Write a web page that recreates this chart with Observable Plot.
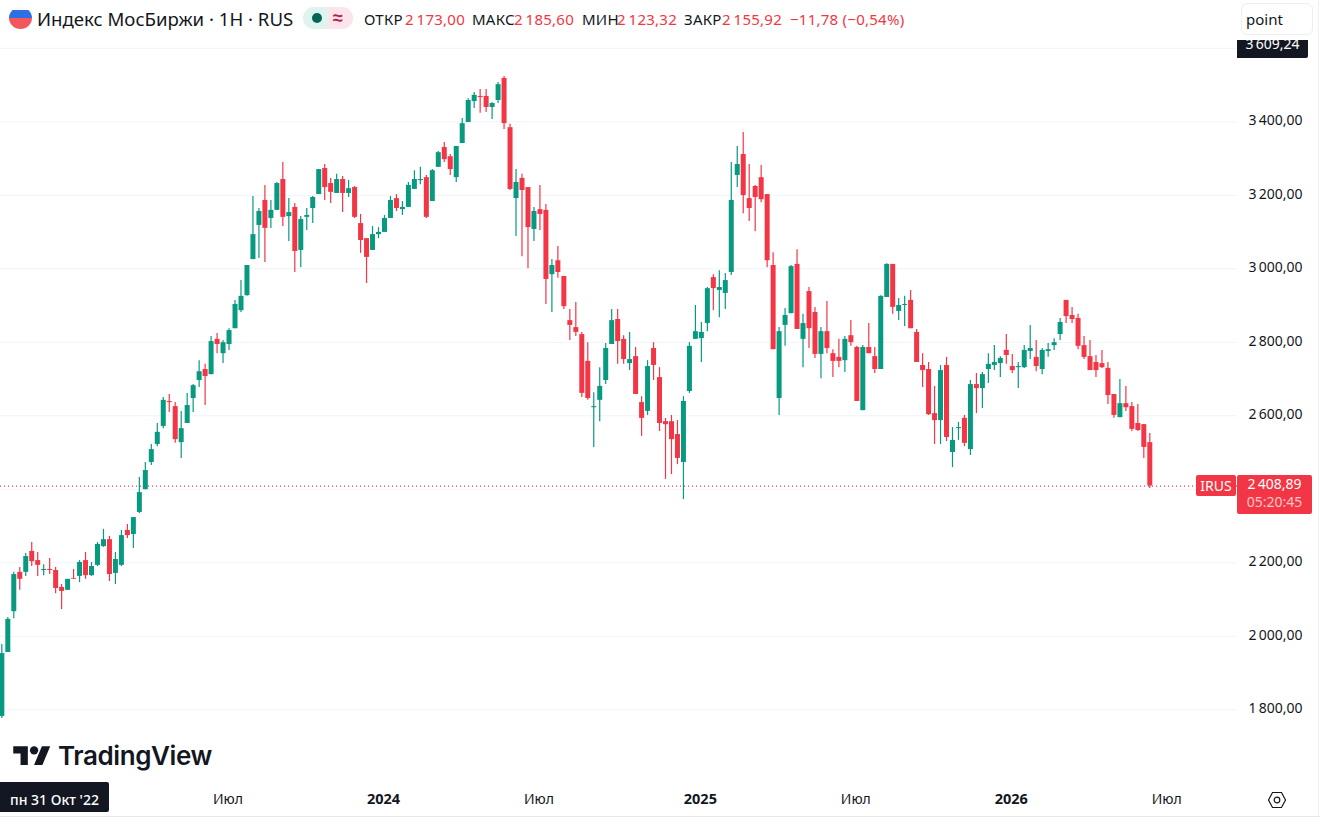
<!DOCTYPE html>
<html lang="ru">
<head>
<meta charset="utf-8">
<title>Индекс МосБиржи</title>
<script src="https://cdn.jsdelivr.net/npm/d3@7"></script>
<script src="https://cdn.jsdelivr.net/npm/@observablehq/plot@0.6"></script>
<style>
  html,body{margin:0;padding:0;background:#fff;overflow:hidden;}
  #stage{position:relative;width:1320px;height:820px;font-family:"Noto Sans",sans-serif;color:#131722;}
  #stage svg.plot{position:absolute;left:0;top:0;}
  .abs{position:absolute;white-space:nowrap;}
  .lg{font-size:15px;letter-spacing:.25px;line-height:18px;top:10px;}
  .red{color:#f23645;}
</style>
</head>
<body>
<div id="stage"></div>
<script>
const open = [
1782,1956,2067,2174,2174,2231,2206,2179,2182,2179,
2133,2125,2157,2163,2206,2165,2193,2244,2263,2171,
2193,2288,2277,2337,2399,2473,2522,2571,2639,2625,
2527,2579,2647,2696,2726,2712,2808,2769,2794,2837,
2886,2927,3025,3118,3186,3137,3159,3243,3142,3167,
3050,3140,3164,3202,3273,3232,3205,3243,3205,3221,
3123,3082,3050,3093,3099,3137,3191,3161,3167,3216,
3240,3248,3183,3276,3330,3305,3248,3341,3398,3455,
3469,3469,3439,3458,3518,3384,3191,3246,3221,3107,
3161,3159,2984,3022,2979,2859,2840,2821,2748,2622,
2642,2696,2794,2862,2808,2742,2761,2636,2612,2783,
2704,2584,2584,2549,2473,2666,2808,2810,2851,2976,
2941,2933,2990,3254,3311,3191,3224,3248,3202,3009,
2647,2846,2878,3012,2808,2938,2881,2767,2829,2769,
2759,2750,2818,2786,2614,2786,2761,2726,2922,3012,
2884,2900,2914,2827,2737,2726,2606,2587,2737,2500,
2565,2593,2508,2685,2674,2726,2737,2742,2778,2734,
2731,2731,2775,2759,2726,2775,2791,2821,2914,2873,
2865,2791,2761,2745,2742,2729,2658,2595,2633,2625,
2579,2576,2527];
const high = [
1978,2051,2174,2187,2225,2255,2228,2195,2212,2187,
2141,2155,2182,2206,2228,2201,2255,2291,2272,2228,
2288,2304,2323,2432,2473,2522,2579,2650,2658,2636,
2612,2661,2685,2750,2740,2816,2824,2805,2837,2914,
2968,3009,3197,3164,3227,3186,3235,3289,3191,3178,
3142,3164,3197,3270,3284,3246,3257,3251,3240,3224,
3148,3082,3115,3112,3145,3197,3202,3183,3235,3267,
3276,3254,3270,3319,3344,3311,3333,3409,3463,3480,
3488,3488,3452,3507,3523,3393,3270,3257,3221,3167,
3227,3175,3025,3061,2979,2889,2908,2827,2799,2663,
2731,2797,2889,2889,2818,2827,2786,2652,2750,2799,
2731,2593,2601,2587,2652,2799,2900,2854,2949,2984,
2995,2987,3289,3333,3371,3284,3227,3281,3202,3044,
2840,2892,3009,3052,2876,2949,2895,2840,2911,2780,
2808,2816,2859,2789,2791,2851,2786,2927,3014,3012,
2919,2925,2941,2835,2769,2745,2680,2737,2759,2568,
2582,2601,2696,2715,2718,2769,2791,2761,2821,2767,
2745,2791,2846,2805,2783,2797,2810,2865,2914,2895,
2876,2816,2805,2764,2778,2745,2658,2699,2680,2636,
2631,2576,2552];
const low = [
1776,1956,2048,2125,2163,2190,2163,2165,2168,2116,
2073,2125,2155,2146,2155,2163,2190,2242,2149,2141,
2190,2266,2239,2334,2399,2465,2516,2565,2609,2525,
2484,2579,2609,2677,2628,2712,2769,2742,2778,2837,
2881,2925,3025,3028,3017,3110,3159,3115,3074,2990,
3003,3104,3123,3202,3186,3178,3205,3153,3194,3137,
3042,2960,3050,3082,3099,3137,3156,3145,3167,3216,
3229,3137,3183,3276,3289,3254,3235,3341,3398,3436,
3423,3425,3406,3450,3379,3213,3088,3033,3000,3074,
3104,2903,2881,2974,2889,2805,2816,2650,2642,2514,
2584,2685,2794,2740,2740,2723,2658,2544,2601,2696,
2557,2427,2440,2467,2372,2661,2808,2745,2829,2886,
2867,2889,2982,3221,3150,3129,3101,3180,3003,2780,
2601,2789,2878,2835,2731,2783,2756,2701,2769,2704,
2731,2718,2789,2639,2614,2769,2715,2726,2922,2876,
2859,2843,2837,2745,2677,2601,2522,2522,2530,2459,
2533,2516,2492,2606,2620,2688,2723,2704,2740,2715,
2674,2729,2753,2720,2712,2759,2778,2805,2851,2851,
2780,2753,2723,2704,2729,2631,2593,2595,2612,2557,
2557,2484,2402];
const close = [
1953,2046,2168,2155,2217,2203,2193,2182,2179,2130,
2122,2155,2155,2201,2165,2190,2250,2263,2168,2209,
2274,2274,2323,2391,2451,2508,2555,2642,2636,2535,
2565,2628,2682,2720,2707,2802,2794,2799,2832,2903,
2925,3009,3093,3156,3110,3159,3232,3140,3153,3047,
3134,3145,3194,3270,3221,3208,3243,3205,3218,3140,
3077,3031,3093,3099,3137,3186,3164,3167,3227,3243,
3243,3140,3267,3316,3297,3270,3333,3395,3458,3472,
3466,3439,3450,3501,3395,3216,3235,3213,3112,3156,
3148,2971,3009,2990,2897,2846,2827,2661,2647,2625,
2680,2783,2859,2802,2753,2753,2658,2593,2734,2737,
2579,2576,2535,2484,2639,2789,2829,2827,2946,2946,
2949,2968,3186,3284,3199,3164,3194,3188,3022,2780,
2829,2873,3006,2835,2851,2837,2767,2829,2783,2748,
2748,2808,2799,2639,2786,2769,2726,2925,3012,2895,
2900,2903,2837,2745,2723,2603,2587,2723,2541,2533,
2568,2525,2685,2674,2712,2740,2745,2756,2764,2723,
2734,2778,2783,2734,2778,2780,2799,2854,2870,2862,
2789,2759,2723,2723,2731,2655,2601,2633,2622,2563,
2560,2514,2408.89];

const firstWeek = new Date(Date.UTC(2022, 9, 10));
const yTicks = [1800,2000,2200,2600,2800,3000,3200,3400];
const yTickLabels = ["1\u2009800,00","2\u2009000,00","2\u2009200,00","2\u2009600,00","2\u2009800,00","3\u2009000,00","3\u2009200,00","3\u2009400,00"];
const gridValues = [1800,2000,2200,2400,2600,2800,3000,3200,3400,3600];
const monthTicks = [new Date(Date.UTC(2023,6,3)), new Date(Date.UTC(2024,6,1)), new Date(Date.UTC(2025,6,7)), new Date(Date.UTC(2026,6,6))];
const yearTicks = [new Date(Date.UTC(2024,0,1)), new Date(Date.UTC(2025,0,6)), new Date(Date.UTC(2026,0,5))];
const lastPrice = 2408.89;
const upColor = "#089981", downColor = "#f23645";
const fontAxis = '"Noto Sans",sans-serif';

const bars = open.map((o,i)=>({
  date: d3.utcDay.offset(firstWeek, 7*i),
  open:o, high:high[i], low:low[i], close:close[i],
  dir: close[i] >= o ? "up" : "down"
}));

const chart = Plot.plot({
  width:1320, height:820,
  marginLeft:0, marginRight:83, marginTop:0, marginBottom:30,
  style:{background:"transparent", fontFamily:fontAxis, fontSize:"13px", color:"#131722", overflow:"hidden"},
  x:{type:"utc", domain:[bars[0].date, bars[bars.length-1].date], range:[1.33,1149.3], label:null},
  y:{domain:[1800,3600], range:[709.3,47.8], label:null},
  color:{domain:["up","down"], range:[upColor,downColor]},
  marks:[
    Plot.ruleY(gridValues,{stroke:"#f0f3fa", strokeWidth:1}),
    Plot.ruleY([lastPrice],{stroke:downColor, strokeWidth:1.2, strokeDasharray:"1 3"}),
    Plot.ruleX(bars,{x:"date", y1:"low", y2:"high", stroke:"dir", strokeWidth:1.2}),
    Plot.ruleX(bars,{x:"date", y1:"open", y2:"close", stroke:"dir", strokeWidth:5}),
    Plot.axisY(yTicks,{anchor:"right", tickSize:0, tickPadding:11, label:null, dy:-1,
      tickFormat:d=>yTickLabels[yTicks.indexOf(d)], fontSize:14, fill:"#131722"}),
    Plot.axisX(monthTicks,{anchor:"bottom", tickSize:0, tickPadding:3.5, label:null, dx:-1,
      tickFormat:()=>"Июл", fontSize:14, fill:"#131722"}),
    Plot.axisX(yearTicks,{anchor:"bottom", tickSize:0, tickPadding:3.5, label:null, dx:-1,
      tickFormat:d=>d3.utcFormat("%Y")(d), fontSize:14.5, fontWeight:700, fill:"#131722"})
  ]
});

const stage = document.getElementById("stage");
stage.appendChild(chart);

const overlay = `
<div class="abs" style="left:0;top:816px;width:1320px;height:1px;background:#e6e8ee"></div>
<div class="abs" style="left:1318px;top:0;width:1px;height:816px;background:#eef0f4"></div>

<div class="abs" style="left:9px;top:7px;width:23px;height:22px;border-radius:50%;background:linear-gradient(#fafafa 0,#fafafa 15%,#2f6fe4 15%,#2f6fe4 50%,#f2575b 50%)"></div>
<div class="abs" style="left:37px;top:6px;font-size:18.6px;line-height:26px">Индекс МосБиржи · 1H · RUS</div>
<div class="abs" style="left:303px;top:7px;width:25px;height:22px;border-radius:11px 0 0 11px;background:#dff3ef"></div>
<div class="abs" style="left:328px;top:7px;width:25px;height:22px;border-radius:0 11px 11px 0;background:#fde3ea"></div>
<div class="abs" style="left:312px;top:13px;width:10px;height:10px;border-radius:50%;background:#056656"></div>
<div class="abs" style="left:333px;top:5px;font-size:18px;line-height:24px;font-weight:700;color:#b2214f">≈</div>

<div class="abs lg" style="left:364px">ОТКР</div><div class="abs lg red" style="left:405px">2\u2009173,00</div>
<div class="abs lg" style="left:472px">МАКС</div><div class="abs lg red" style="left:514px">2\u2009185,60</div>
<div class="abs lg" style="left:582px">МИН</div><div class="abs lg red" style="left:617px">2\u2009123,32</div>
<div class="abs lg" style="left:684px">ЗАКР</div><div class="abs lg red" style="left:722px">2\u2009155,92</div>
<div class="abs lg red" style="left:790px">−11,78 (−0,54%)</div>

<div class="abs" style="left:1241px;top:3px;width:70px;height:30px;border:1px solid #eceef2;border-radius:6px;font-size:15px;line-height:30px;text-indent:4px;background:#fff">point</div>

<div class="abs" style="left:1237px;top:40px;width:71px;height:18px;background:#131722;border-radius:0 0 2px 0;overflow:hidden;color:#fff;font-size:14px;line-height:18px;text-align:center"><span style="position:relative;top:-5px">3\u2009609,24</span></div>

<div class="abs" style="left:1196px;top:475px;width:40px;height:21px;background:#f23645;border-radius:2px;color:#fff;font-size:14px;line-height:21px;text-align:center">IRUS</div>
<div class="abs" style="left:1237px;top:475px;width:75px;height:39px;background:#f23645;border-radius:2px;color:#fff;font-size:14px;line-height:18px;text-align:center">2\u2009408,89<br><span style="color:#fcc6cb">05:20:45</span></div>

<svg class="abs" style="left:13px;top:742px" width="38" height="25" viewBox="0 0 36 24"><path fill="#131722" d="M14 22H7V11H0V4h14v18zM28 22h-8l7.5-18h8L28 22z"/><circle fill="#131722" cx="20" cy="8" r="4"/></svg>
<div class="abs" style="left:58px;top:738px;font-family:Inter,sans-serif;font-size:26px;line-height:36px;font-weight:600;letter-spacing:-0.4px;color:#131722">TradingView</div>

<div class="abs" style="left:0;top:782px;width:109px;height:30px;background:#131722;border-radius:0 2px 2px 0;color:#fff;font-size:14px;line-height:36px;text-align:center;font-weight:500">пн 31 Окт '22</div>

<svg class="abs" style="left:1267px;top:791px" width="20" height="18" viewBox="0 0 20 18"><path fill="none" stroke="#131722" stroke-width="1.2" d="M1.5 9L5.5 1.5h9L18.5 9l-4 7.5h-9z"/><circle fill="none" stroke="#131722" stroke-width="1.2" cx="10" cy="9" r="2.8"/></svg>
`;
stage.insertAdjacentHTML("beforeend", overlay);
</script>
</body>
</html>
